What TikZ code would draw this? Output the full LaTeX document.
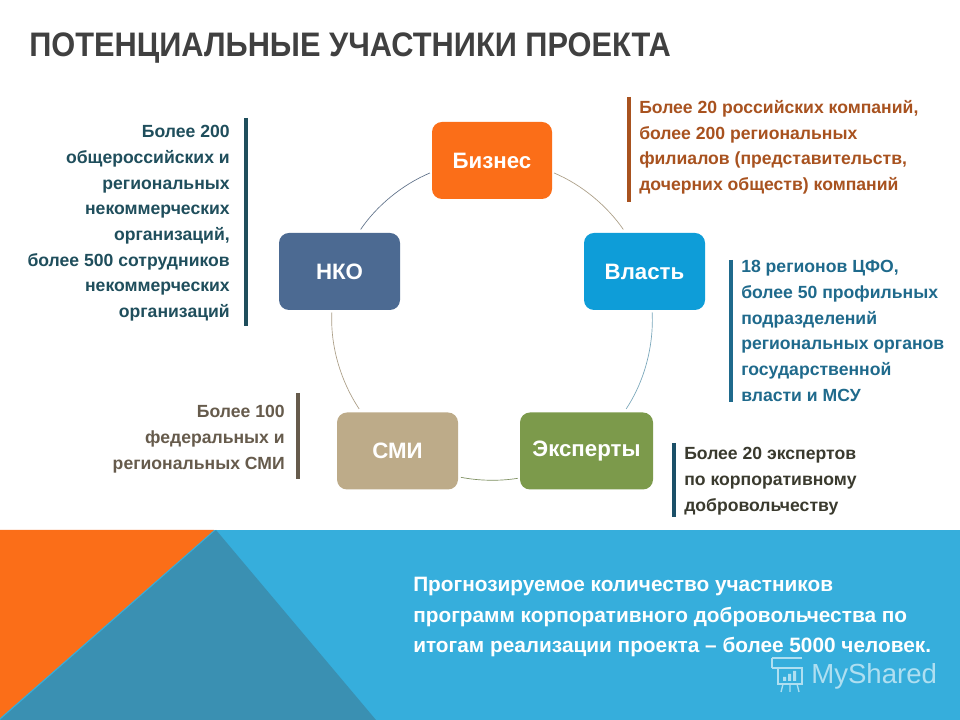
\documentclass[tikz,border=0pt]{standalone}
\usepackage{fontspec}
\setmainfont{Liberation Sans}
\newfontfamily\titlefont[FakeStretch=0.905]{Liberation Sans}
\usetikzlibrary{calc}
\definecolor{cTitle}{HTML}{404040}
\definecolor{cOrange}{HTML}{FB6E18}
\definecolor{cSky}{HTML}{0E9DD8}
\definecolor{cSlate}{HTML}{4C6A92}
\definecolor{cTan}{HTML}{BDAB89}
\definecolor{cGreen}{HTML}{7C9A4B}
\definecolor{cBandLight}{HTML}{36AEDC}
\definecolor{cBandDark}{HTML}{3A90B2}
\definecolor{cNkoT}{HTML}{1F4E5C}
\definecolor{cBizT}{HTML}{A8521F}
\definecolor{cVlT}{HTML}{1F6A8C}
\definecolor{cExBar}{HTML}{1B5068}
\definecolor{cExpT}{HTML}{3A3A2E}
\definecolor{cSmiT}{HTML}{665B4C}
\tikzset{
  x=0.75pt,y=0.75pt,
  hub/.style={rectangle,rounded corners=7.5pt,minimum height=57.75pt,inner sep=0pt,text=white,font=\fontsize{16.7}{20}\selectfont\bfseries},
  note/.style={inner sep=0pt,font=\fontsize{13.2}{19.3}\selectfont\bfseries},
  arcline/.style={line width=0.5pt},
  bar/.style={line width=2.3pt}
}
\begin{document}
\begin{tikzpicture}
\useasboundingbox (0,0) rectangle (960,720);
\fill[white] (0,0) rectangle (960,720);
\fill[cBandLight] (0,0) rectangle (960,190);
\fill[cBandDark] (0,0) -- (216,190) -- (376,0) -- cycle;
\fill[cOrange] (0,190) -- (214,190) -- (0,2) -- cycle;
\node[anchor=west,inner sep=0pt,text=cTitle,font=\fontsize{25.5}{30}\titlefont\bfseries] (title) at (29,672) {ПОТЕНЦИАЛЬНЫЕ УЧАСТНИКИ ПРОЕКТА};
\node[hub,fill=cOrange,minimum width=90pt] (biz) at (492,559.5) {Бизнес};
\node[hub,fill=cSky,minimum width=90.75pt] (vl) at (644.5,448.5) {Власть};
\node[hub,fill=cGreen,minimum width=99.75pt] (ex) at (586.5,269) {Эксперты};
\node[hub,fill=cTan,minimum width=90.75pt] (smi) at (397.5,269) {СМИ};
\node[hub,fill=cSlate,minimum width=90.75pt] (nko) at (339.5,448.5) {НКО};
\draw[arcline,draw=cTan!70!gray,shorten <=1.5pt,shorten >=3pt] (biz.-11.4) to[out=-22.9,in=124.6,looseness=.87] (vl.116);
\draw[arcline,draw=cVlT!60!white,shorten <=1.5pt,shorten >=3pt] (vl.-79.5) to[out=-87.1,in=56.4,looseness=.88] (ex.46.8);
\draw[arcline,draw=cGreen!60!gray,shorten <=1.5pt,shorten >=2pt] (ex.202.2) to[out=-170.7,in=-11.1,looseness=.86] (smi.-23);
\draw[arcline,draw=cTan!70!gray,shorten <=3pt,shorten >=1.5pt] (smi.133.2) to[out=123.6,in=267.1,looseness=.88] (nko.259.5);
\draw[arcline,draw=cSlate!60!gray,shorten <=3pt,shorten >=1.5pt] (nko.64.8) to[out=55.9,in=202.9,looseness=.87] (biz.191.4);
\node[note,anchor=north east,align=right,text=cNkoT] (tNko) at (230,595) {Более 200\\общероссийских и\\региональных\\некоммерческих\\организаций,\\более 500 сотрудников\\некоммерческих\\организаций};
\coordinate (bNkoA) at (246,602); \coordinate (bNkoB) at (246,394);
\draw[bar,draw=cNkoT] (bNkoA) -- (bNkoB);
\node[note,anchor=north west,align=left,text=cBizT] (tBiz) at (639,620) {Более 20 российских компаний,\\более 200 региональных\\филиалов (представительств,\\дочерних обществ) компаний};
\coordinate (bBizA) at (629,623); \coordinate (bBizB) at (629,518);
\draw[bar,draw=cBizT] (bBizA) -- (bBizB);
\node[note,anchor=north west,align=left,text=cVlT] (tVl) at (741,460) {18 регионов ЦФО,\\более 50 профильных\\подразделений\\региональных органов\\государственной\\власти и МСУ};
\coordinate (bVlA) at (731,460); \coordinate (bVlB) at (731,318);
\draw[bar,draw=cVlT] (bVlA) -- (bVlB);
\node[note,anchor=north west,align=left,text=cExpT] (tEx) at (684,273) {Более 20 экспертов\\по корпоративному\\добровольчеству};
\coordinate (bExA) at (674,277); \coordinate (bExB) at (674,203);
\draw[bar,draw=cExBar] (bExA) -- (bExB);
\node[note,anchor=north east,align=right,text=cSmiT] (tSmi) at (285,315) {Более 100\\федеральных и\\региональных СМИ};
\coordinate (bSmiA) at (298,327); \coordinate (bSmiB) at (298,241);
\draw[bar,draw=cSmiT] (bSmiA) -- (bSmiB);
\node[anchor=north west,align=left,inner sep=0pt,text=white,font=\fontsize{15.6}{23}\selectfont\bfseries] (tBand) at (413,143) {Прогнозируемое количество участников\\программ корпоративного добровольчества по\\итогам реализации проекта – более 5000 человек.};
\node[anchor=west,inner sep=0pt,text=white!60!cBandLight,font=\fontsize{20.7}{26}\selectfont] (mark) at (811,44) {MyShared};
\begin{scope}[draw=white!60!cBandLight,line width=1pt]
\draw (778,52) rectangle (802,36);
\draw (772,62) -- (802,62) (772,62) -- (772,52) (772,52) -- (778,52);
\draw (783,36) -- (781,28) (790,36) -- (790,28) (797,36) -- (799,28);
\fill[white!60!cBandLight] (783,39) rectangle (786,43) (788,39) rectangle (791,46) (793,39) rectangle (796,49);
\end{scope}
\end{tikzpicture}
\end{document}
